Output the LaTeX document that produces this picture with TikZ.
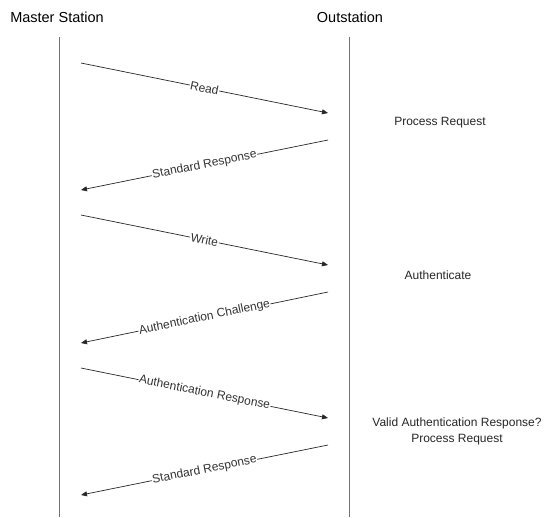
\documentclass[tikz,border=0pt]{standalone}
\usepackage{fontspec}
\setmainfont{Liberation Sans}
\usetikzlibrary{calc}
\usetikzlibrary{positioning}
\usetikzlibrary{arrows.meta}
\tikzstyle{lifeline} = [draw=black!55, line width=0.9pt]
\tikzstyle{titlenode} = [font=\fontsize{14.5}{17}\selectfont, inner sep=0pt]
\tikzstyle{msg} = [draw=black!85, line width=0.7pt, -{Triangle[length=6pt,width=5pt]}]
\tikzstyle{msglabel} = [sloped, fill=white, inner sep=0.6pt, font=\fontsize{12}{14}\selectfont, text=black!80]
\tikzstyle{notenode} = [align=center, font=\fontsize{12}{16}\selectfont, text=black!85, inner sep=0pt]

\begin{document}
\begin{tikzpicture}[x=1pt, y=-1pt]
  \useasboundingbox (0,0) rectangle (554,517);

  \node[titlenode] (ms) at (57,17) {Master Station};
  \node[titlenode] (os) at (350,17) {Outstation};

  \coordinate (ms top) at (59,37);
  \coordinate (ms bot) at (59,517);
  \coordinate (os top) at (349,37);
  \coordinate (os bot) at (349,517);
  \draw[lifeline] (ms top) -- (ms bot);
  \draw[lifeline] (os top) -- (os bot);

  % message end points
  \coordinate (m1) at (81,63);   \coordinate (o1) at (328,113);
  \coordinate (o2) at (328,140); \coordinate (m2) at (81,190);
  \coordinate (m3) at (81,215);  \coordinate (o3) at (328,265);
  \coordinate (o4) at (328,292); \coordinate (m4) at (81,343);
  \coordinate (m5) at (81,368);  \coordinate (o5) at (328,418);
  \coordinate (o6) at (328,445); \coordinate (m6) at (81,495);

  \draw[msg] (m1) -- node[msglabel] {Read} (o1);
  \draw[msg] (o2) -- node[msglabel] {Standard Response} (m2);
  \draw[msg] (m3) -- node[msglabel] {Write} (o3);
  \draw[msg] (o4) -- node[msglabel] {Authentication Challenge} (m4);
  \draw[msg] (m5) -- node[msglabel] {Authentication Response} (o5);
  \draw[msg] (o6) -- node[msglabel] {Standard Response} (m6);

  \node[notenode] (n1) at (440,123) {Process Request};
  \node[notenode] (n2) at (438,275) {Authenticate};
  \node[notenode] (n3) at (457,431) {Valid Authentication Response?\\Process Request};
\end{tikzpicture}
\end{document}
